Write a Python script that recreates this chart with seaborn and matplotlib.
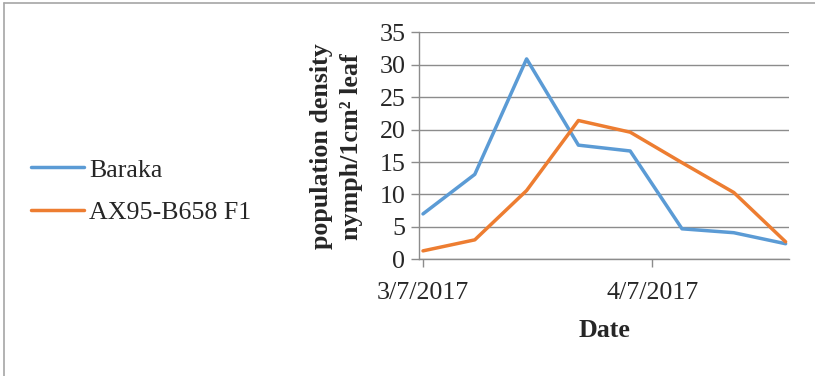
import matplotlib
matplotlib.use("Agg")
import matplotlib.pyplot as plt
from matplotlib.lines import Line2D
import pandas as pd
import seaborn as sns

# Weekly sampling dates and nymph counts per 1 cm² of leaf
dates = ["2017-03-07", "2017-03-14", "2017-03-21", "2017-03-28",
         "2017-04-04", "2017-04-11", "2017-04-18", "2017-04-25"]
baraka = [7.0, 13.1, 30.9, 17.6, 16.7, 4.7, 4.1, 2.4]
ax95 = [1.3, 3.0, 10.6, 21.4, 19.6, 14.9, 10.3, 2.7]
series_names = ["Baraka", "AX95-B658 F1"]
series_colors = ["#5B9BD5", "#ED7D31"]
x_tick_dates = ["2017-03-07", "2017-04-07"]
y_ticks = [0, 5, 10, 15, 20, 25, 30, 35]

df = pd.DataFrame({
    "Date": pd.to_datetime(dates * 2),
    "density": baraka + ax95,
    "variety": [series_names[0]] * len(dates) + [series_names[1]] * len(dates),
})

sns.set_style("white")
plt.rcParams["font.family"] = ["Liberation Serif", "DejaVu Serif"]

FS = 18.7
LW = 2.5
fig = plt.figure(figsize=(8.15, 3.76), dpi=100)
ax = fig.add_axes([419.3 / 815, 1 - 259.3 / 376, 370 / 815, 227 / 376])

sns.lineplot(data=df, x="Date", y="density", hue="variety",
             palette=dict(zip(series_names, series_colors)),
             linewidth=LW, ax=ax, legend=True)

handles = [Line2D([], [], color=c, lw=LW, solid_capstyle="round") for c in series_colors]
ax.get_legend().remove()
fig.legend(handles, series_names, loc="center left",
           bbox_to_anchor=(31 / 815, 1 - 191 / 376), frameon=False,
           fontsize=FS, handlelength=2.04, handletextpad=0.2,
           labelspacing=0.73, borderpad=0, borderaxespad=0)

# Axis limits and ticks
d0 = pd.Timestamp(dates[0]) - pd.Timedelta(hours=12)
d1 = pd.Timestamp(dates[-1]) + pd.Timedelta(hours=12)
ax.set_xlim(d0, d1)
ax.set_ylim(0, 35)
ax.set_yticks(y_ticks)
ticks = pd.to_datetime(x_tick_dates)
ax.set_xticks(ticks)
ax.set_xticklabels([f"{t.month}/{t.day}/{t.year}" for t in ticks])

grid_col = "#8C8C8C"
ax.grid(axis="y", color=grid_col, linewidth=1.0)
ax.grid(axis="x", visible=False)
ax.set_axisbelow(True)
for s in ["top", "right"]:
    ax.spines[s].set_visible(False)
for s in ["left", "bottom"]:
    ax.spines[s].set_color(grid_col)
    ax.spines[s].set_linewidth(1.0)

ax.tick_params(axis="y", which="both", direction="out", length=5.5, width=1,
               color=grid_col, labelsize=FS, pad=4.5, left=True)
ax.tick_params(axis="x", which="both", direction="out", length=5.5, width=1,
               color=grid_col, labelsize=FS, pad=11.2, bottom=True)

ax.set_xlabel("Date", fontsize=FS, fontweight="bold", labelpad=10.5)
ax.set_ylabel("population density\nnymph/1cm² leaf", fontsize=FS,
              fontweight="bold", va="center", linespacing=1.4)
ax.yaxis.set_label_coords((336.5 - 419.3) / 370, (259.3 - 146.5) / 227)

# Chart frame edges
frame_col = "#A6A6A6"
fig.add_artist(Line2D([4.3 / 815, 1.0], [1 - 3.3 / 376, 1 - 3.3 / 376],
                      transform=fig.transFigure, color=frame_col, lw=1.2))
fig.add_artist(Line2D([4.3 / 815, 4.3 / 815], [0, 1 - 3.3 / 376],
                      transform=fig.transFigure, color=frame_col, lw=1.2))

fig.savefig("out.png", dpi=100)
